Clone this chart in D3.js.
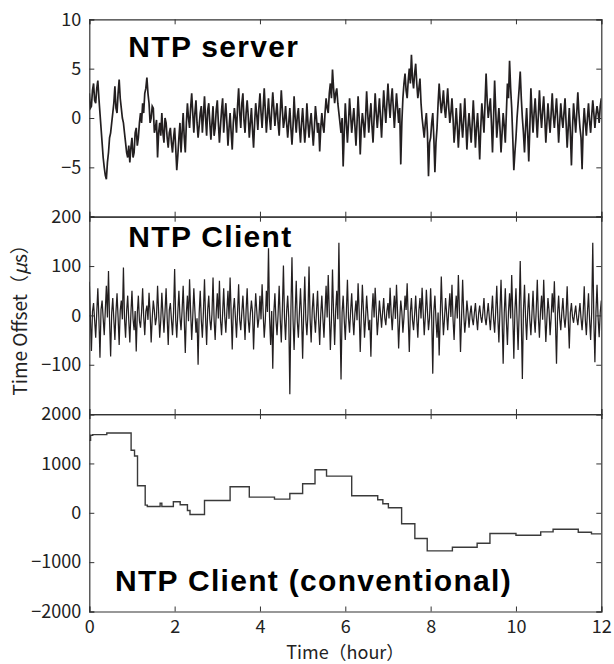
<!DOCTYPE html>
<html>
<head>
<meta charset="utf-8">
<script src="https://cdn.jsdelivr.net/npm/d3@7"></script>
<style>
  body { margin: 0; background: #fff; }
  text { font-family: "Noto Sans CJK JP", "Noto Sans", sans-serif; fill: #222; }
  .title { font-family: "Liberation Sans", Arial, sans-serif; font-weight: bold; fill: #000; letter-spacing: 1.3px; }
</style>
</head>
<body>
<svg id="chart" width="614" height="664"></svg>
<script>
// sampling step of the two noisy records (hours)
let sampleStep = 0.025;

// NTP server offset (us), 40 samples per hour
let serverOffset = [
  2.5, 1.0, 1.2, 2.8, 3.5, 1.8, 1.5, 3.0, 3.8, 2.0, 0.5, -1.0, -2.5, -4.0, -5.0, -5.8, -6.2, -4.5, -3.5, -2.0,
  -1.5, -0.5, 0.5, 1.5, 3.2, 1.0, 0.5, 2.5, 3.9, 2.0, 1.0, 0.0, -0.5, -1.5, -2.5, -3.5, -4.0, -2.8, -4.5, -3.0,
  -2.0, -4.0, -3.5, -1.5, -1.0, -2.8, -2.0, -0.5, 0.5, -0.5, 1.5, 0.5, 2.5, 3.0, 4.1, 2.5, 1.5, -0.5, 0.0, 1.2,
  1.0, -1.5, -1.0, -0.2, -4.0, -1.5, -0.5, -1.8, 0.5, -1.5, -2.5, 0.0, -0.5, -2.0, -3.0, -1.5, -1.0, -2.5, -3.5, -2.0,
  -1.0, -3.0, -5.3, -3.8, -2.0, -0.5, -3.5, -1.5, 0.5, -2.0, -3.5, -0.5, 1.5, 0.0, -1.0, 1.0, 2.5, 0.5, -1.5, 0.5,
  1.8, -0.5, -2.0, -0.8, 0.5, 1.2, -1.5, 0.3, 2.2, 0.0, -1.8, 0.8, 1.5, -0.5, -2.2, -0.5, 1.2, -1.8, -1.0, 0.8,
  1.8, -0.5, -2.5, -0.8, 0.8, 2.0, -1.5, 0.2, 1.5, -0.5, -2.8, -1.0, 0.5, -1.5, -3.2, -0.5, 1.0, 0.0, -1.5, 1.2,
  3.0, 0.5, -1.0, 1.5, 2.5, -0.2, -1.5, 0.5, 1.8, 0.2, -2.0, -0.5, 1.0, -1.2, -3.0, -0.5, 1.5, 0.3, -1.2, 1.0,
  2.5, 0.5, -1.0, 1.0, 3.0, 0.8, -1.5, 0.2, 2.0, 0.0, -1.2, 0.8, 2.6, 1.0, -0.8, 0.5, 1.5, -0.5, -1.8, 0.5,
  2.8, 0.8, -1.0, -0.2, 1.2, -0.5, -2.0, -0.5, 1.0, -1.0, -2.7, -0.8, 2.2, 0.0, -1.5, 0.2, 1.0, -1.0, -2.5, -0.5,
  1.0, -0.8, -2.5, -1.0, 1.5, -0.5, -2.0, -0.5, 0.5, -1.2, -2.8, -1.0, 1.2, 0.0, -1.5, -0.5, -3.4, -1.0, 0.5, -0.8,
  -1.5, 0.5, 2.0, 1.0, 0.5, 2.5, 3.5, 2.0, 4.9, 3.0, 1.5, 2.5, 3.0, 1.5, 0.5, -0.5, -1.5, 0.0, -4.9, -1.5,
  1.5, -0.5, -2.5, -0.5, 2.0, 0.3, -1.5, -0.2, 1.0, -0.8, -2.8, -0.5, 2.2, 0.0, -3.7, -1.0, 0.5, -0.5, -2.0, 0.0,
  2.7, 0.5, -1.5, 0.2, 1.5, -0.8, -2.5, 0.0, 2.5, 0.5, -1.0, 0.5, 2.0, 0.0, -2.0, 0.5, 2.8, 1.0, -0.5, 1.5,
  3.5, 1.5, 0.0, 1.8, 3.0, 1.0, -1.0, 0.8, 2.5, 1.0, -0.5, 1.0, -4.7, -0.5, 2.0, 3.5, 4.5, 2.8, 2.0, 3.8,
  5.0, 3.5, 6.4, 4.0, 3.0, 4.5, 5.5, 3.5, 2.0, 3.0, 4.0, 1.5, 0.0, -1.0, -2.0, -0.5, 0.5, -1.5, -5.9, -2.5,
  -2.0, -0.5, 0.5, -2.0, -5.5, -2.5, -1.0, 1.5, 3.5, 1.8, 0.5, 1.5, 2.8, 1.0, 0.0, 1.5, 3.0, 1.0, -0.5, 0.5,
  2.0, 0.0, -2.5, -1.0, 1.0, -0.8, -3.0, -1.0, 1.5, -0.5, -2.0, -0.2, 2.0, -0.5, -3.2, -1.0, 0.5, -1.0, -2.5, -0.5,
  1.8, -0.5, -3.0, -1.0, 0.5, -1.5, -4.2, -1.0, 1.5, 0.0, -1.5, 1.5, 4.5, 1.8, 0.0, 1.0, 2.0, -0.5, -3.5, 0.0,
  3.8, 0.8, -2.0, -0.5, 1.0, -1.0, -3.5, -1.5, 0.5, -0.8, -2.5, 0.5, 3.5, 2.0, 5.8, 3.0, 1.0, -2.0, -5.3, -3.5,
  -2.0, 0.0, 1.5, 3.0, 4.7, 2.0, 0.0, -1.5, -3.5, -1.0, 1.0, -1.5, -4.4, -1.0, 3.0, 0.5, -1.5, 0.5, 2.0, 0.0,
  -2.0, 0.3, 2.8, 0.5, -1.0, 0.8, 2.2, 0.0, -2.5, -0.5, 1.5, -0.2, -1.5, 0.5, 2.5, 0.3, -1.0, 0.5, 2.0, 0.0,
  -2.5, -0.5, 1.5, 0.0, -1.0, 0.5, 2.0, -0.5, -3.0, -1.0, 1.0, -1.5, -4.8, -1.0, 1.5, 0.0, -1.5, 0.5, 2.6, 0.5,
  -1.0, -2.0, -5.2, -1.0, 1.0, -0.5, -1.8, 0.0, 1.5, -0.3, -1.5, 0.2, 1.8, 0.5, -1.0, 0.3, 1.2, 0.5, -0.5, 1.2,
  2.0
];

// NTP client offset (us), 40 samples per hour
let clientOffset = [
  68, -5, -72, 8, 25, -10, -45, 6, 55, -8, -86, 12, 30, -6, -40, 10, 60, -4, 90, -12,
  -83, 5, 35, -9, -50, 7, 45, -5, -60, 10, 30, -8, 97, -6, -45, 9, 40, -10, -55, 4,
  50, -7, -30, 9, -73, 4, 40, -11, -25, 6, 55, -3, -40, 8, 20, -9, 46, 5, -55, -6,
  30, 10, -20, -4, 60, 7, -45, -10, 46, 3, -35, 8, 55, -5, -60, 11, 25, -8, -40, 6,
  94, -9, -45, 6, 50, -4, -30, 10, 60, -7, -76, 5, 40, -12, 73, 8, -50, -3, 55, 9,
  -35, -6, -100, 4, 50, -10, -45, 7, 73, -5, -60, 11, 40, -8, -30, 3, 77, -9, -50, 6,
  45, -6, 70, -10, -40, 5, 55, -3, -35, 9, 50, -7, 77, 4, -69, 11, 35, -5, -45, 8,
  63, -9, -30, 6, 40, -4, -50, 10, 55, -8, -35, 3, 30, 7, -69, -5, 45, 9, -25, -6,
  40, -8, 63, 5, -45, -11, 50, 7, 136, -4, -60, 9, -108, 6, 45, -10, -40, 3, 60, -7,
  -55, 12, 101, -5, -50, 8, 40, -6, -160, 10, 118, -9, -70, 4, 70, -12, -45, 7, 55, -3,
  -88, 6, 79, -9, -40, 4, 99, -7, -55, 10, 45, -5, -35, 8, 50, -11, -60, 3, 40, -6,
  -45, 9, 60, -4, 82, 7, -70, -10, 93, 5, -60, 11, 50, -8, 147, -3, -130, 6, 40, -9,
  -50, 7, 72, -5, -35, 9, 45, -6, -40, 4, 30, -10, 65, 8, -74, -3, 62, 11, -45, -7,
  40, 5, -30, -9, -84, 6, 45, -4, 56, 10, -40, -8, 30, 3, -25, 7, 35, -5, -20, 9,
  25, -6, 56, 4, -30, 9, 40, -7, 62, 5, -67, -10, 30, 8, -35, -4, 40, 11, 65, -5,
  -74, 6, 35, -9, -30, 3, 40, -8, -45, 10, 35, -6, 56, 7, -40, -3, 52, 9, -30, -5,
  55, -4, -118, 8, 40, -10, -45, 6, -81, -5, 79, 9, -40, -7, 35, 4, -30, 11, 45, -3,
  62, -8, -50, 7, 40, -6, 82, 10, -74, -4, 72, 5, -35, -9, 30, 6, -25, 3, 20, -7,
  -20, 5, 25, -6, -30, 4, 20, -3, -15, 7, 35, -5, -20, 3, 25, -4, -30, 6, 40, -8,
  -35, 9, 60, -5, -55, 10, 72, -7, -98, 4, 55, -11, -60, 8, 45, -6, 82, 3, -88, 9,
  55, -8, -70, 6, 110, -12, -129, 9, 62, -5, -50, 7, 45, -10, -40, 4, 50, -6, -35, 11,
  72, -3, -45, 8, 40, -9, 72, 5, -54, -7, 35, 10, -40, -4, 45, 6, 69, -11, -98, 3,
  40, -5, -30, 6, 35, -4, -25, 3, 59, -7, -67, 5, 25, -3, -15, 4, 20, -5, -20, 3,
  25, -6, -30, 4, 59, -8, -40, 6, 45, -9, -50, 7, 147, -10, -95, 8, 62, -5, -44, 6,
  30
];

// conventional NTP client: step changes (hour, us)
let stepTimes = [0, 0.03, 0.08, 0.41, 0.98, 1.06, 1.13, 1.31, 1.36, 1.66, 1.70, 1.97, 2.13, 2.30, 2.36, 2.70,
  3.30, 3.75, 4.34, 4.70, 5.00, 5.29, 5.56, 6.15, 6.76, 6.88, 7.01, 7.32, 7.63, 7.92, 8.51, 9.09, 9.39,
  10.00, 10.58, 10.87, 11.46, 11.77, 12];
let stepValues = [1468, 1570, 1584, 1617, 1266, 1150, 548, 155, 128, 195, 127, 223, 162, 47, -35, 250,
  528, 317, 277, 392, 589, 873, 744, 345, 264, 183, 101, -223, -522, -772, -698, -617, -420,
  -455, -386, -333, -394, -427, -427];

let xTicks = [0, 2, 4, 6, 8, 10, 12];
let titles = ["NTP server", "NTP Client", "NTP Client (conventional)"];

let margin = { left: 89.3, right: 12.7, top: 19.3 };
let width = 614;
let panelHeight = 197.4;
let tickLen = 5;
let lineColor = "#231f20";

let svg = d3.select("#chart");
let plotWidth = width - margin.left - margin.right;

let xScale = d3.scaleLinear().domain([0, 12]).range([0, plotWidth]);

let toPoints = (values) => values.map((v, i) => ({ t: i * sampleStep, v: v }));

let panels = [
  { data: toPoints(serverOffset), domain: [-10, 10], ticks: [-10, -5, 0, 5, 10], hideLabel: -10,
    title: titles[0], tx: 39, ty: 37.4, curve: d3.curveLinear, color: lineColor, lw: 1.7 },
  { data: toPoints(clientOffset), domain: [-200, 200], ticks: [-200, -100, 0, 100, 200], hideLabel: -200,
    title: titles[1], tx: 39, ty: 30, curve: d3.curveLinear, color: lineColor, lw: 1.25 },
  { data: stepTimes.map((t, i) => ({ t: t, v: stepValues[i] })), domain: [-2000, 2000],
    ticks: [-2000, -1000, 0, 1000, 2000], hideLabel: null,
    title: titles[2], tx: 25.7, ty: 176.7, curve: d3.curveStepAfter, color: "#3a3a3a", lw: 1.4 }
];

panels.forEach(function (p, idx) {
  let top = margin.top + idx * panelHeight;
  let g = svg.append("g").attr("transform", `translate(${margin.left},${top})`);

  let yScale = d3.scaleLinear().domain(p.domain).range([panelHeight, 0]);

  g.append("clipPath").attr("id", "clip" + idx)
    .append("rect").attr("width", plotWidth).attr("height", panelHeight);

  let lineGenerator = d3.line()
    .x(d => xScale(d.t))
    .y(d => yScale(d.v))
    .curve(p.curve);

  g.append("path")
    .datum(p.data)
    .attr("clip-path", `url(#clip${idx})`)
    .attr("fill", "none")
    .attr("stroke", p.color)
    .attr("stroke-width", p.lw)
    .attr("d", lineGenerator);

  // ticks point inward on all four sides
  let left = g.append("g")
    .call(d3.axisLeft(yScale).tickValues(p.ticks).tickSize(-tickLen).tickPadding(8)
      .tickFormat(d => d == p.hideLabel ? "" : d3.format("")(d)));
  let right = g.append("g").attr("transform", `translate(${plotWidth},0)`)
    .call(d3.axisRight(yScale).tickValues(p.ticks).tickSize(-tickLen).tickFormat(""));
  let topAx = g.append("g")
    .call(d3.axisTop(xScale).tickValues(xTicks).tickSize(-tickLen).tickFormat(""));
  let bottomAx = g.append("g").attr("transform", `translate(0,${panelHeight})`)
    .call(d3.axisBottom(xScale).tickValues(xTicks).tickSize(-tickLen).tickPadding(9)
      .tickFormat(idx == 2 ? d3.format("") : ""));

  [left, right, topAx, bottomAx].forEach(function (a) {
    a.select(".domain").attr("stroke", "#333").attr("stroke-width", 1.2);
    a.selectAll(".tick line").attr("stroke", "#333").attr("stroke-width", 1);
    a.selectAll("text").attr("font-size", 18).attr("fill", "#222")
      .attr("font-family", '"Noto Sans CJK JP", sans-serif');
  });

  g.append("text")
    .attr("class", "title")
    .attr("x", p.tx)
    .attr("y", p.ty)
    .attr("font-size", 30)
    .text(p.title);
});

let plotBottom = margin.top + 3 * panelHeight;

svg.append("text")
  .attr("x", margin.left + plotWidth / 2)
  .attr("y", 659)
  .attr("text-anchor", "middle")
  .attr("font-size", 18)
  .text("Time（hour）");

let yLabel = svg.append("text")
  .attr("transform", `translate(27,${(margin.top + plotBottom) / 2}) rotate(-90)`)
  .attr("text-anchor", "middle")
  .attr("font-size", 19);
yLabel.append("tspan").text("Time Offset（");
yLabel.append("tspan").attr("font-style", "italic").text("μ");
yLabel.append("tspan").text("s）");
</script>
</body>
</html>
